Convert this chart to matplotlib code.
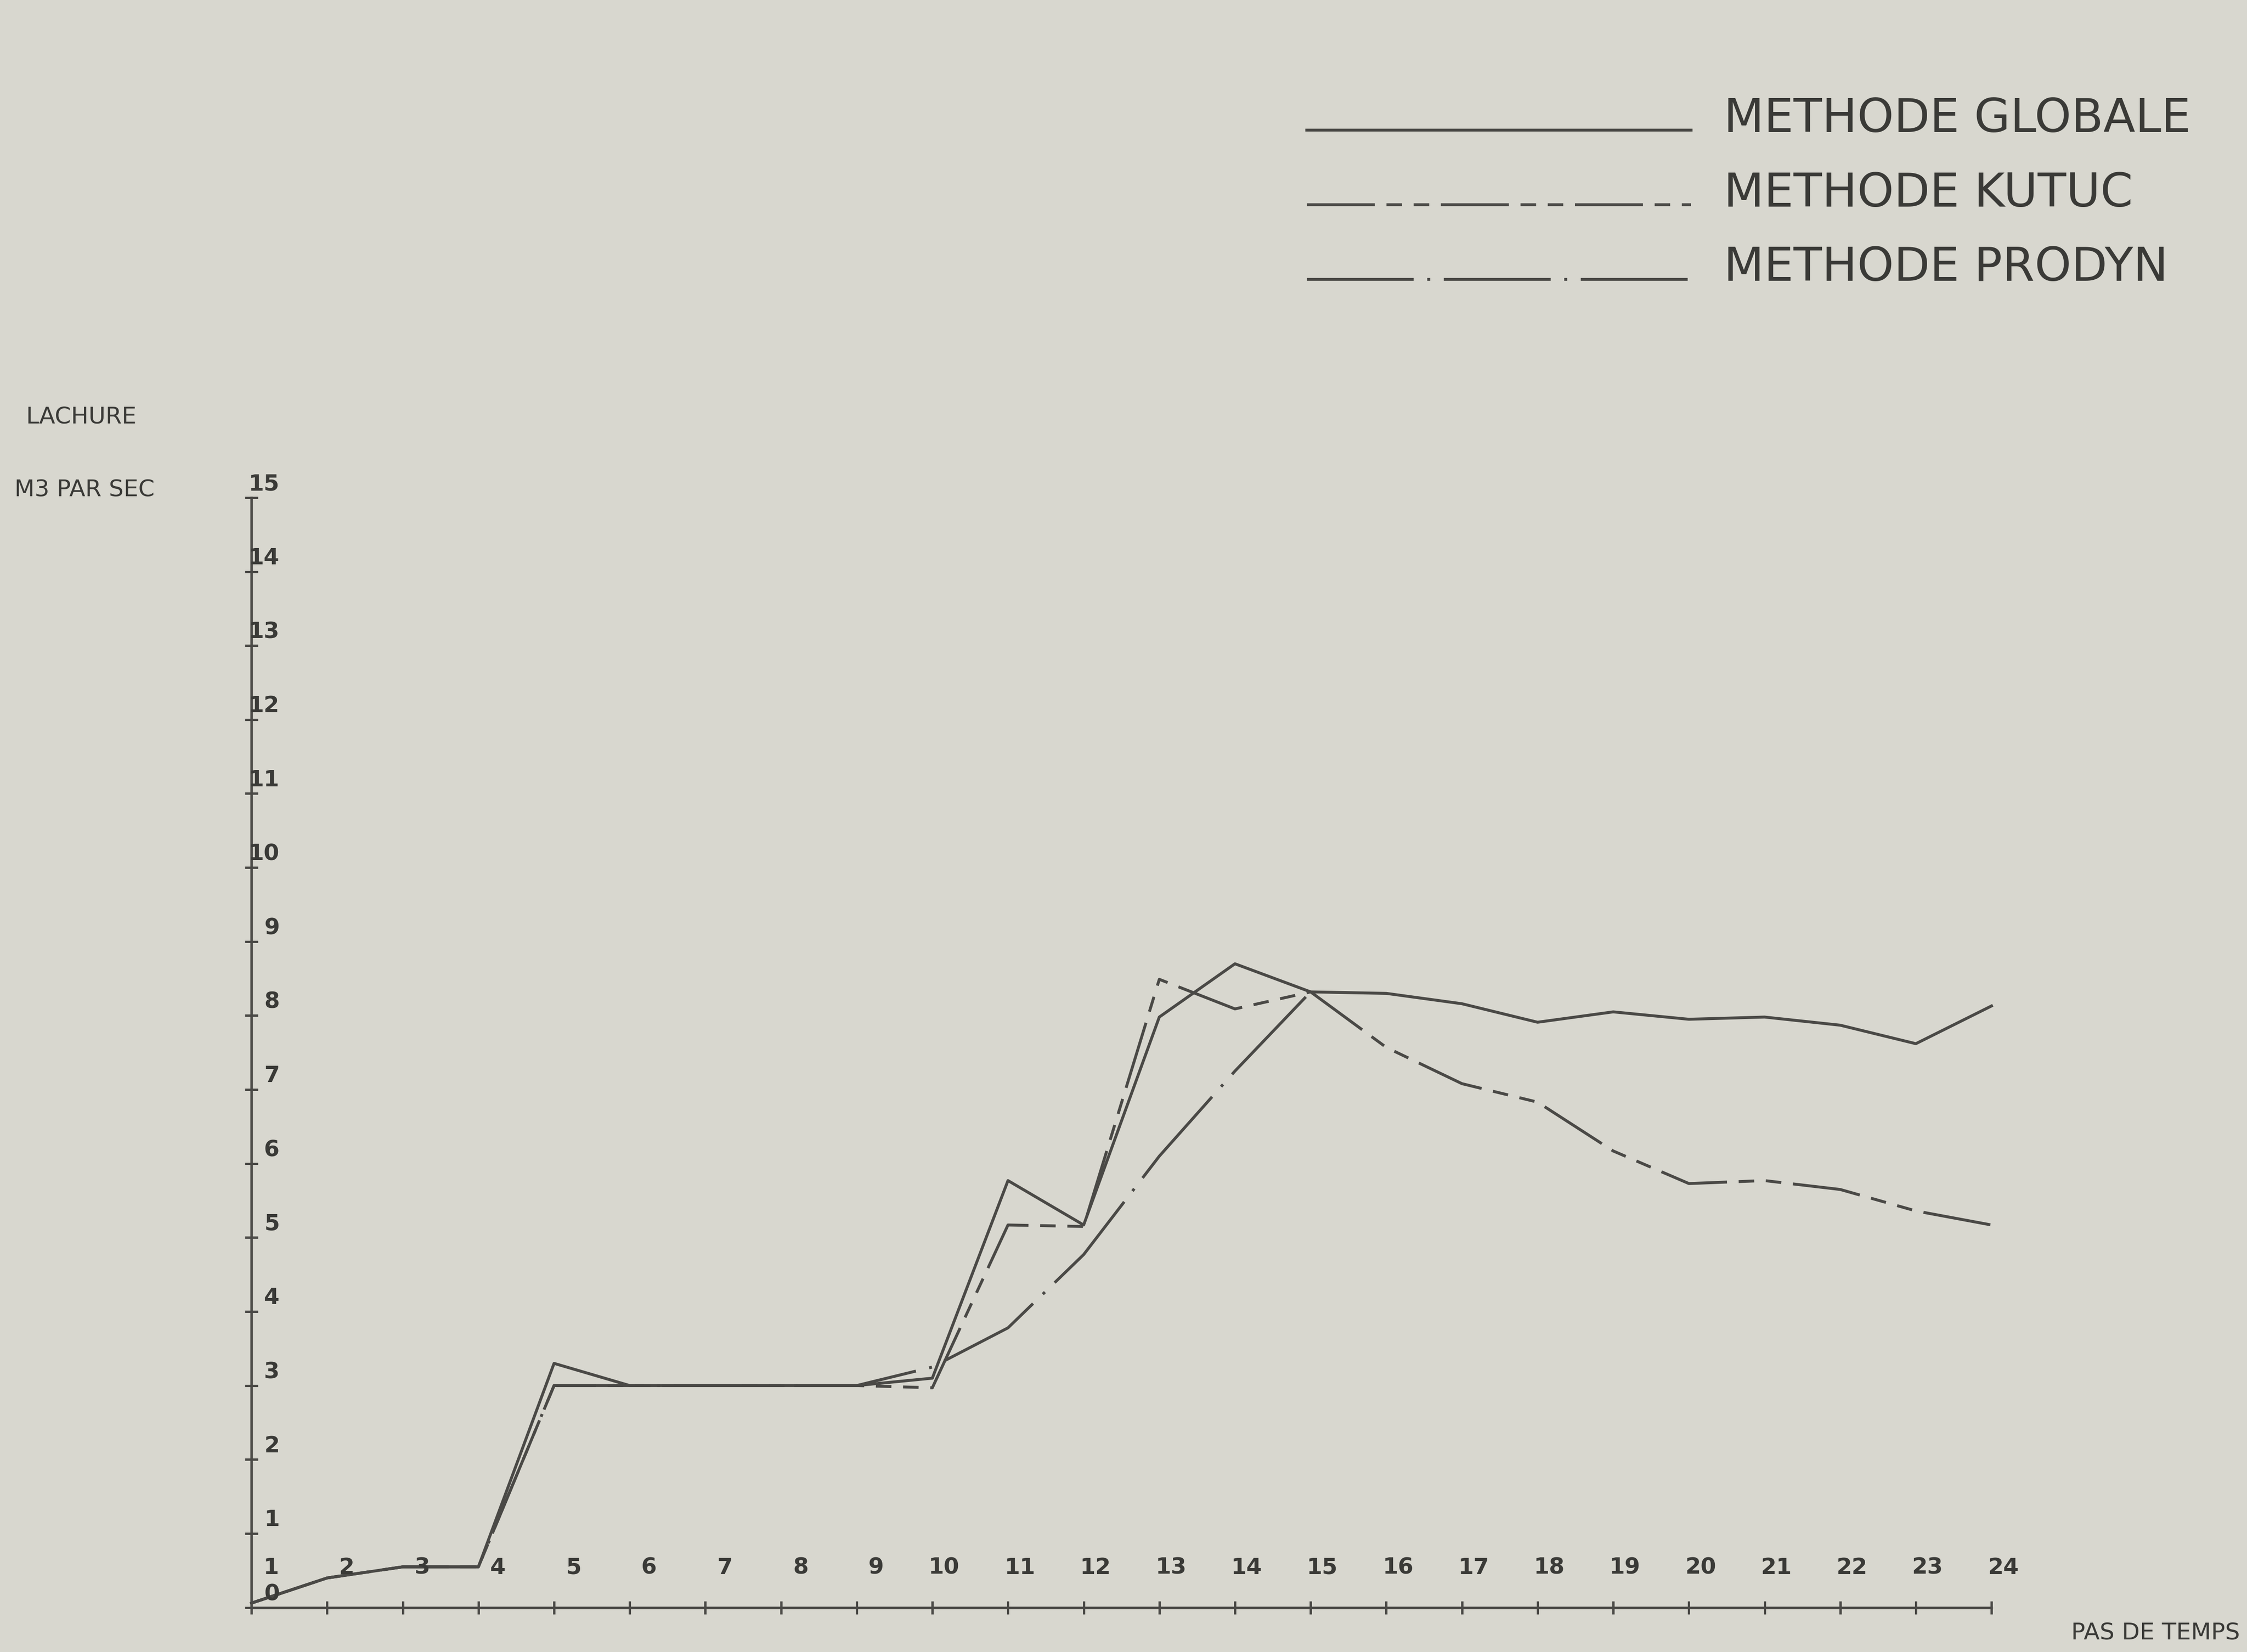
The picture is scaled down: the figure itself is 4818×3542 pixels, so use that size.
import matplotlib.pyplot as plt
from matplotlib.lines import Line2D
from matplotlib.transforms import offset_copy

# time steps and release (m3/s) for each method
STEPS = list(range(1, 25))
GLOBALE = [0.06, 0.40, 0.55, 0.55, 3.30, 3.00, 3.00, 3.00, 3.00, 3.10,
           5.77, 5.17, 7.98, 8.70, 8.32, 8.30, 8.16, 7.91, 8.05, 7.95,
           7.98, 7.87, 7.62, 8.13]
KUTUC = [0.06, 0.40, 0.55, 0.55, 3.00, 3.00, 3.00, 3.00, 3.00, 2.97,
         5.17, 5.15, 8.49, 8.09, 8.32, 7.57, 7.08, 6.83, 6.17, 5.73,
         5.77, 5.65, 5.36, 5.17]
# prodyn only drawn up to step 15
PRODYN_STEPS = list(range(1, 16))
PRODYN = [0.06, 0.40, 0.55, 0.55, 3.00, 3.00, 3.00, 3.00, 3.00, 3.25,
          3.78, 4.77, 6.10, 7.25, 8.32]

Y_TICKS = list(range(0, 16))
LEGEND_LABELS = ['METHODE GLOBALE', 'METHODE KUTUC', 'METHODE PRODYN']

BG_COLOR = '#d8d7cf'
INK = '#4a4946'
TEXT_INK = '#3a3a37'
LW = 1.5

# dash patterns in points (not scaled by line width)
plt.rcParams['lines.scale_dashes'] = False
STYLE_GLOBALE = '-'
STYLE_KUTUC = (0, (35, 6, 8, 6, 8, 6))
STYLE_PRODYN = (0, (55, 7, 1.5, 7))


def main():
    fig = plt.figure(figsize=(4818 / 300, 3542 / 300), dpi=300)
    fig.patch.set_facecolor(BG_COLOR)

    ax = fig.add_axes([0.1119, 0.0269, 0.7744, 0.6719])
    ax.patch.set_alpha(0)
    ax.set_xlim(1, 24)
    ax.set_ylim(0, 15)

    # plot the three methods
    ax.plot(STEPS, GLOBALE, color=INK, lw=LW, linestyle=STYLE_GLOBALE,
            clip_on=False)
    ax.plot(STEPS, KUTUC, color=INK, lw=LW, linestyle=STYLE_KUTUC,
            clip_on=False)
    ax.plot(PRODYN_STEPS, PRODYN, color=INK, lw=LW, linestyle=STYLE_PRODYN,
            clip_on=False)

    # axes: only left and bottom lines, ticks crossing the axis
    for side in ['top', 'right']:
        ax.spines[side].set_visible(False)
    for side in ['left', 'bottom']:
        ax.spines[side].set_color(INK)
        ax.spines[side].set_linewidth(1.3)
    ax.set_xticks(STEPS)
    ax.set_yticks(Y_TICKS)
    ax.tick_params(direction='inout', length=6.5, width=1.2, color=INK,
                   labelbottom=False, labelleft=False)

    # tick labels drawn inside the axes, right of each tick
    label_font = dict(fontsize=11.5, fontweight='bold', color=TEXT_INK,
                      ha='right', va='center')
    x_trans = offset_copy(ax.transData, fig=fig, x=14, y=20.5, units='points')
    for s in STEPS:
        ax.text(s, 0, str(s), transform=x_trans, **label_font)
    y_trans = offset_copy(ax.transData, fig=fig, x=14.5, y=7,
                          units='points')
    for v in Y_TICKS:
        ax.text(1, v, str(v), transform=y_trans, **label_font)

    # axis titles
    fig.text(0.0115, 0.7476, 'LACHURE', fontsize=12, color=TEXT_INK,
             va='center', ha='left')
    fig.text(0.0064, 0.7034, 'M3 PAR SEC', fontsize=12, color=TEXT_INK,
             va='center', ha='left')
    fig.text(0.9968, 0.0113, 'PAS DE TEMPS', fontsize=12, color=TEXT_INK,
             va='center', ha='right')

    # legend, line samples with text on the right
    styles = [STYLE_GLOBALE, STYLE_KUTUC, STYLE_PRODYN]
    legend_y = [0.9211, 0.8760, 0.8309]
    for label, style, y in zip(LEGEND_LABELS, styles, legend_y):
        fig.add_artist(Line2D([0.5816, 0.7526], [y, y], color=INK, lw=LW,
                              linestyle=style, transform=fig.transFigure))
        fig.text(0.7672, y - 0.001, label, fontsize=24, color=TEXT_INK,
                 va='baseline', ha='left')

    fig.savefig('out.png', dpi=300, facecolor=BG_COLOR)
    plt.close(fig)


main()
